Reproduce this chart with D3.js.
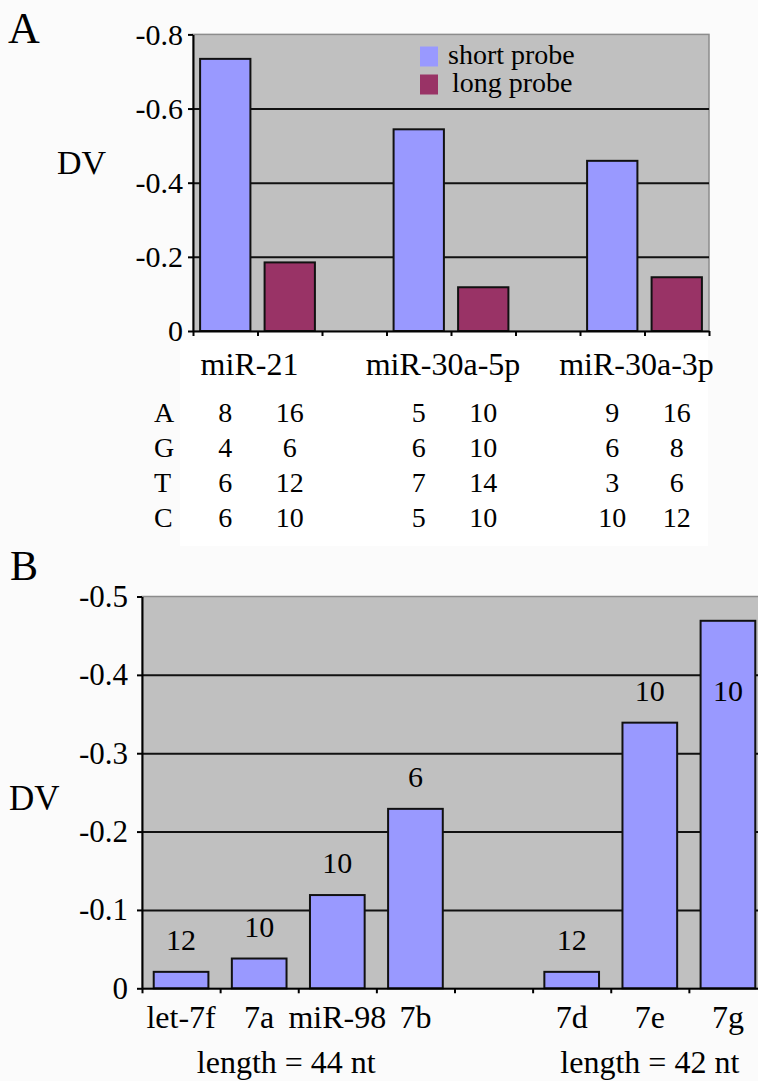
<!DOCTYPE html>
<meta charset="utf-8">
<style>

body { margin: 0; background: #fbfbfb; }

svg text { font-family: "Liberation Serif", "Times New Roman", Times, "Nimbus Roman", "DejaVu Serif", serif; }

.axis path,
.axis line {
    fill: none;
    stroke: #000;
    stroke-width: 2;
}

.grid line { stroke: #111; stroke-width: 2; }
.grid path { display: none; }

.bar { stroke: #111; stroke-width: 2; }

</style>

<body>
<script src="https://d3js.org/d3.v7.min.js"></script>
<script>

    // ---- data, panel A ----
    var groupsA = ["miR-21", "miR-30a-5p", "miR-30a-3p"];
    var seriesA = ["short probe", "long probe"];
    var shortProbe = [-0.734, -0.544, -0.459];
    var longProbe = [-0.185, -0.118, -0.145];
    var ticksA = [0, -0.2, -0.4, -0.6, -0.8];
    var baseRows = ["A", "G", "T", "C"];
    var baseShort = [[8, 4, 6, 6], [5, 6, 7, 5], [9, 6, 3, 10]];
    var baseLong = [[16, 6, 12, 10], [10, 10, 14, 10], [16, 8, 6, 12]];

    // ---- data, panel B ----
    var catsB = ["let-7f", "7a", "miR-98", "7b", "", "7d", "7e", "7g"];
    var valuesB = [-0.021, -0.038, -0.119, -0.229, null, -0.021, -0.339, -0.469];
    var countsB = [12, 10, 10, 6, null, 12, 10, 10];
    var ticksB = [0, -0.1, -0.2, -0.3, -0.4, -0.5];
    var lengthLabels = ["length = 44 nt", "length = 42 nt"];
    var lengthMembers = [["let-7f", "7a", "miR-98", "7b"], ["7d", "7e", "7g"]];

    var colors = ["#9999ff", "#993366"];
    var fmt = function(d) { return d === 0 ? "0" : d.toFixed(1); };

    var svg = d3.select("body").append("svg")
        .attr("width", 758)
        .attr("height", 1081);

    // =================== Panel A ===================
    var A = {left: 193, right: 709, top: 34.4, bottom: 331};

    // one slot per bar, plus an empty slot between groups
    var slotsA = [];
    groupsA.forEach(function(g, i) {
        slotsA.push(g + "|0", g + "|1");
        if (i < groupsA.length - 1) slotsA.push(g + "|gap");
    });

    var xA = d3.scaleBand().domain(slotsA).range([A.left, A.right])
        .paddingInner(0.22).paddingOuter(0.11);
    var yA = d3.scaleLinear().domain([0, -0.8]).range([A.bottom, A.top]);

    svg.append("rect")
        .attr("x", A.left).attr("y", A.top)
        .attr("width", A.right - A.left).attr("height", A.bottom - A.top)
        .attr("fill", "#c0c0c0").attr("stroke", "#8c8c8c").attr("stroke-width", 1.5);

    svg.append("g")
        .attr("class", "grid")
        .attr("transform", "translate(" + A.left + ",0)")
        .call(d3.axisLeft(yA).tickValues(ticksA.slice(1, -1))
            .tickSize(-(A.right - A.left)).tickFormat(""));

    var barsA = [];
    groupsA.forEach(function(g, i) {
        barsA.push({slot: g + "|0", v: shortProbe[i], s: 0});
        barsA.push({slot: g + "|1", v: longProbe[i], s: 1});
    });

    svg.selectAll(".barA").data(barsA).enter().append("rect")
        .attr("class", "bar barA")
        .attr("x", function(d) { return xA(d.slot); })
        .attr("width", xA.bandwidth())
        .attr("y", function(d) { return yA(d.v); })
        .attr("height", function(d) { return yA(0) - yA(d.v); })
        .attr("fill", function(d) { return colors[d.s]; });

    // x axis: ticks on slot boundaries
    var bndA = d3.scaleLinear().domain([0, slotsA.length]).range([A.left, A.right]);
    svg.append("g")
        .attr("class", "axis")
        .attr("transform", "translate(0," + A.bottom + ")")
        .call(d3.axisBottom(bndA).tickValues(d3.range(slotsA.length + 1))
            .tickSize(5).tickSizeOuter(0).tickFormat(""));

    svg.append("g")
        .attr("class", "axis")
        .attr("transform", "translate(" + A.left + ",0)")
        .call(d3.axisLeft(yA).tickValues(ticksA).tickSize(5).tickSizeOuter(0)
            .tickPadding(5).tickFormat(fmt))
        .call(function(g) { g.attr("font-family", null);
            g.selectAll("text").attr("font-size", 30).attr("fill", "#000"); });

    // legend
    var legA = svg.append("g");
    seriesA.forEach(function(s, i) {
        legA.append("rect")
            .attr("x", 420).attr("y", 46.5 + i * 28)
            .attr("width", 18).attr("height", 20)
            .attr("fill", colors[i]);
        legA.append("text")
            .attr("x", 448 + i * 4).attr("y", 63.5 + i * 28)
            .attr("font-size", 28)
            .text(s);
    });

    svg.append("text").attr("x", 8).attr("y", 42.7).attr("font-size", 44).text("A");
    svg.append("text").attr("x", 57).attr("y", 174).attr("font-size", 34).text("DV");

    // white table background
    svg.append("rect")
        .attr("x", 180).attr("y", 340).attr("width", 528).attr("height", 206)
        .attr("fill", "#fff");

    // category labels and base composition table
    var rowY = d3.scalePoint().domain(baseRows).range([421.7, 526.7]);
    groupsA.forEach(function(g, i) {
        var cS = xA(g + "|0") + xA.bandwidth() / 2,
            cL = xA(g + "|1") + xA.bandwidth() / 2;
        svg.append("text")
            .attr("x", (cS + cL) / 2 - 8).attr("y", 375)
            .attr("text-anchor", "middle").attr("font-size", 32)
            .text(g);
        baseRows.forEach(function(r, j) {
            svg.append("text").attr("x", cS).attr("y", rowY(r))
                .attr("text-anchor", "middle").attr("font-size", 28)
                .text(baseShort[i][j]);
            svg.append("text").attr("x", cL).attr("y", rowY(r))
                .attr("text-anchor", "middle").attr("font-size", 28)
                .text(baseLong[i][j]);
        });
    });
    baseRows.forEach(function(r) {
        svg.append("text").attr("x", 154).attr("y", rowY(r))
            .attr("font-size", 28).text(r);
    });

    // =================== Panel B ===================
    var B = {left: 142, right: 767, top: 596.5, bottom: 988.3};

    var xB = d3.scaleBand().domain(catsB).range([B.left, B.right])
        .paddingInner(0.3).paddingOuter(0.15);
    var yB = d3.scaleLinear().domain([0, -0.5]).range([B.bottom, B.top]);

    svg.append("rect")
        .attr("x", B.left).attr("y", B.top)
        .attr("width", B.right - B.left).attr("height", B.bottom - B.top)
        .attr("fill", "#c0c0c0").attr("stroke", "#8c8c8c").attr("stroke-width", 1.5);

    svg.append("g")
        .attr("class", "grid")
        .attr("transform", "translate(" + B.left + ",0)")
        .call(d3.axisLeft(yB).tickValues(ticksB.slice(1, -1))
            .tickSize(-(B.right - B.left)).tickFormat(""));

    var barsB = catsB.map(function(c, i) {
        return {c: c, v: valuesB[i], n: countsB[i]};
    }).filter(function(d) { return d.v !== null; });

    svg.selectAll(".barB").data(barsB).enter().append("rect")
        .attr("class", "bar barB")
        .attr("x", function(d) { return xB(d.c); })
        .attr("width", xB.bandwidth())
        .attr("y", function(d) { return yB(d.v); })
        .attr("height", function(d) { return yB(0) - yB(d.v); })
        .attr("fill", colors[0]);

    // probe length counts above the bars (tallest one sits inside its bar)
    svg.selectAll(".cnt").data(barsB).enter().append("text")
        .attr("class", "cnt")
        .attr("x", function(d) { return xB(d.c) + xB.bandwidth() / 2; })
        .attr("y", function(d) { return Math.max(yB(d.v) - 22, yB(-0.367)); })
        .attr("text-anchor", "middle").attr("font-size", 30)
        .text(function(d) { return d.n; });

    var bndB = d3.scaleLinear().domain([0, catsB.length]).range([B.left, B.right]);
    svg.append("g")
        .attr("class", "axis")
        .attr("transform", "translate(0," + B.bottom + ")")
        .call(d3.axisBottom(bndB).tickValues(d3.range(catsB.length + 1))
            .tickSize(5).tickSizeOuter(0).tickFormat(""));

    svg.append("g")
        .attr("class", "axis")
        .attr("transform", "translate(" + B.left + ",0)")
        .call(d3.axisLeft(yB).tickValues(ticksB).tickSize(5).tickSizeOuter(0)
            .tickPadding(9).tickFormat(fmt))
        .call(function(g) { g.attr("font-family", null);
            g.selectAll("text").attr("font-size", 31).attr("fill", "#000"); });

    svg.selectAll(".catB").data(catsB.filter(function(c) { return c !== ""; }))
        .enter().append("text")
        .attr("class", "catB")
        .attr("x", function(d) { return xB(d) + xB.bandwidth() / 2; })
        .attr("y", 1028)
        .attr("text-anchor", "middle").attr("font-size", 32)
        .text(function(d) { return d; });

    lengthLabels.forEach(function(t, i) {
        var m = lengthMembers[i];
        var x0 = xB(m[0]), x1 = xB(m[m.length - 1]) + xB.bandwidth();
        svg.append("text")
            .attr("x", (x0 + x1) / 2 - (i === 0 ? 12 : 0)).attr("y", 1073)
            .attr("text-anchor", "middle").attr("font-size", 32)
            .text(t);
    });

    svg.append("text").attr("x", 10).attr("y", 580).attr("font-size", 42).text("B");
    svg.append("text").attr("x", 9).attr("y", 810).attr("font-size", 35).text("DV");

</script>
</body>
